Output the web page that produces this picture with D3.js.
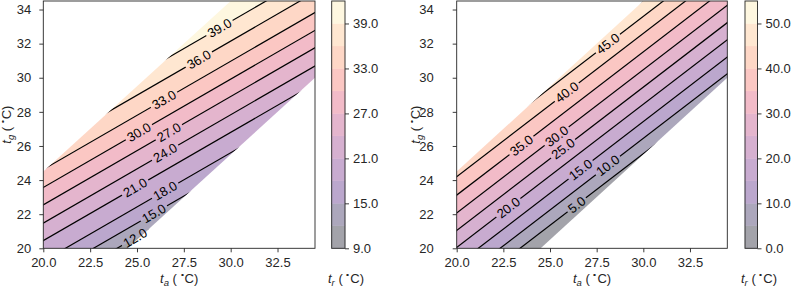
<!DOCTYPE html>
<html>
<head>
<meta charset="utf-8">
<script src="https://cdn.jsdelivr.net/npm/d3@7"></script>
<style>
  body { margin: 0; background: #fff; }
  text { font-family: "Liberation Sans", Arial, sans-serif; fill: #262626; }
</style>
</head>
<body>
<svg id="chart" width="793" height="287"></svg>
<script>
/* DATA (all temperatures in deg C) */
const taDomain = [20, 34.5];
const tgDomain = [20, 34.5];
const taTicks = [20, 22.5, 25, 27.5, 30, 32.5];
const tgTicks = [20, 22, 24, 26, 28, 30, 32, 34];

// region where t_r was computed (ta, tg); the rest of the axes is empty
const validRegion = [[20, 20], [20, 24.5], [30, 34.5], [34.5, 34.5], [34.5, 30], [24.5, 20]];

// left panel
const leftBands = [9, 12, 15, 18, 21, 24, 27, 30, 33, 36, 39, 42];
const leftLevels = [12, 15, 18, 21, 24, 27, 30, 33, 36, 39];
const leftTgAtTa20 = [17.5, 18.3, 19.25, 20.45, 21.48, 22.55, 23.57, 24.62, 25.8, 26.95];
const leftSlope = 0.635; // d tg / d ta along an isoline
const leftLabelTa = [24.9, 25.9, 26.5, 24.9, 26.5, 26.7, 25.1, 26.44, 28.3, 29.4];
const leftBarTicks = [9, 15, 21, 27, 33, 39];

// right panel
const rightBands = [0, 5, 10, 15, 20, 25, 30, 35, 40, 45, 50, 55];
const rightLevels = [5, 10, 15, 20, 25, 30, 35, 40, 45, 50];
const rightTgAtTa20 = [17.15, 18.05, 19.03, 20.05, 21.05, 22.07, 23.12, 24.2, 25.2, 26.15];
const rightSlope = 0.84;
const rightLabelTa = [26.43, 28.1, 26.64, 22.77, 25.7, 25.36, 23.47, 25.9, 28.1, null];
const rightBarTicks = [0, 10, 20, 30, 40, 50];

/* LAYOUT */
const yTop = 1, yBottom = 248.3;
const panels = [
  { bands: leftBands, levels: leftLevels, tg0: leftTgAtTa20, slope: leftSlope, labelTa: leftLabelTa,
    barTicks: leftBarTicks, x0: 43.3, x1: 315, bar0: 331.7, bar1: 345, barLabelX: 346,
    yPad: 8, yLabelX: 10.5 },
  { bands: rightBands, levels: rightLevels, tg0: rightTgAtTa20, slope: rightSlope, labelTa: rightLabelTa,
    barTicks: rightBarTicks, x0: 456.7, x1: 727.3, bar0: 745, bar1: 757.5, barLabelX: 759,
    yPad: 19, yLabelX: 419.5 }
];
const alpha = 0.37;
const ink = "#262626";
const font = '"Liberation Sans", Arial, sans-serif';

const svg = d3.select("#chart");
const defs = svg.append("defs");

// axis label like  t_a ( °C)
function unitLabel(sel, sub) {
  sel.append("tspan").attr("font-style", "italic").text("t");
  sel.append("tspan").attr("font-style", "italic").attr("font-size", "9.5px").attr("dy", 3).text(sub);
  sel.append("tspan").attr("dy", -3).text(" (\u2009");
  sel.append("tspan").attr("font-size", "8px").attr("dy", -5).text("\u2218");
  sel.append("tspan").attr("dy", 5).text("C)");
}

panels.forEach((p, k) => {
  const x = d3.scaleLinear().domain(taDomain).range([p.x0, p.x1]);
  const y = d3.scaleLinear().domain(tgDomain).range([yBottom, yTop]);
  const nb = p.bands.length - 1;
  const color = i => d3.interpolateRgb("#ffffff", d3.interpolateMagma((i + 0.5) / nb))(alpha);
  const lineTg = (i, ta) => p.tg0[i] + p.slope * (ta - 20);

  // clip to the valid region
  defs.append("clipPath").attr("id", "valid" + k)
    .append("polygon")
    .attr("points", validRegion.map(d => [x(d[0]), y(d[1])].join(",")).join(" "));

  const fillG = svg.append("g").attr("clip-path", `url(#valid${k})`);
  const lineG = svg.append("g").attr("clip-path", `url(#valid${k})`).append("g").attr("mask", `url(#gap${k})`);
  const labelG = svg.append("g");

  // filled bands: band i lies between isoline i-1 and isoline i
  const far = [10, 45];
  const bandData = d3.range(nb).map(i => {
    const lo = far.map(ta => [ta, i === 0 ? 0 : lineTg(i - 1, ta)]);
    const hi = far.map(ta => [ta, i === nb - 1 ? 60 : lineTg(i, ta)]).reverse();
    return { i, pts: lo.concat(hi) };
  });
  fillG.selectAll("path")
    .data(bandData)
    .join("path")
    .attr("d", d => d3.line().x(q => x(q[0])).y(q => y(q[1]))(d.pts) + "Z")
    .attr("fill", d => color(d.i))
    .attr("stroke", d => color(d.i))
    .attr("stroke-width", 0.6);

  // contour lines
  lineG.selectAll("path")
    .data(p.levels.map((lv, i) => i))
    .join("path")
    .attr("d", i => d3.line()(far.map(ta => [x(ta), y(lineTg(i, ta))])))
    .attr("fill", "none")
    .attr("stroke", "#000")
    .attr("stroke-width", 1.2);

  // contour labels, with gaps cut out of the lines
  const kx = (p.x1 - p.x0) / (taDomain[1] - taDomain[0]);
  const ky = (yBottom - yTop) / (tgDomain[1] - tgDomain[0]);
  const angle = -Math.atan2(p.slope * ky, kx) * 180 / Math.PI;
  const labels = p.levels.map((lv, i) => ({ lv, i, ta: p.labelTa[i] })).filter(d => d.ta != null);
  const at = d => `translate(${x(d.ta)},${y(lineTg(d.i, d.ta))}) rotate(${angle})`;

  const mask = defs.append("mask").attr("id", "gap" + k).attr("maskUnits", "userSpaceOnUse")
    .attr("x", 0).attr("y", 0).attr("width", 793).attr("height", 287);
  mask.append("rect").attr("width", 793).attr("height", 287).attr("fill", "#fff");

  labelG.selectAll("text")
    .data(labels)
    .join("text")
    .attr("transform", at)
    .attr("text-anchor", "middle")
    .attr("dy", "0.35em")
    .attr("font-size", "13px")
    .style("fill", "#000")
    .text(d => d.lv.toFixed(1))
    .each(function (d) {
      const w = this.getComputedTextLength() + 5;
      mask.append("rect")
        .attr("x", -w / 2).attr("y", -6).attr("width", w).attr("height", 12)
        .attr("fill", "#000")
        .attr("transform", at(d));
    });

  // axes
  const xAxis = d3.axisBottom(x).tickValues(taTicks).tickFormat(d3.format(".1f")).tickSize(4).tickPadding(5);
  const yAxis = d3.axisLeft(y).tickValues(tgTicks).tickFormat(d3.format("d")).tickSize(4).tickPadding(p.yPad);
  const gx = svg.append("g").attr("transform", `translate(0,${yBottom})`).call(xAxis);
  const gy = svg.append("g").attr("transform", `translate(${p.x0},0)`).call(yAxis);
  [gx, gy].forEach(a => {
    a.select(".domain").remove();
    a.selectAll("line").attr("stroke", ink).attr("stroke-width", 0.9);
    a.selectAll("text").attr("font-size", "13px").style("font-family", font).attr("fill", ink);
  });
  svg.append("rect")
    .attr("x", p.x0).attr("y", yTop).attr("width", p.x1 - p.x0).attr("height", yBottom - yTop)
    .attr("fill", "none").attr("stroke", ink).attr("stroke-width", 0.9);

  svg.append("text").attr("x", (p.x0 + p.x1) / 2).attr("y", 282.5)
    .attr("text-anchor", "middle").attr("font-size", "13px").call(unitLabel, "a");
  svg.append("text")
    .attr("transform", `translate(${p.yLabelX},${(yTop + yBottom) / 2}) rotate(-90)`)
    .attr("text-anchor", "middle").attr("font-size", "13px").call(unitLabel, "g");

  // colour bar
  const cb = d3.scaleLinear().domain([p.bands[0], p.bands[nb]]).range([yBottom, yTop]);
  svg.append("g").selectAll("rect")
    .data(d3.range(nb))
    .join("rect")
    .attr("x", p.bar0).attr("width", p.bar1 - p.bar0)
    .attr("y", i => cb(p.bands[i + 1]))
    .attr("height", i => cb(p.bands[i]) - cb(p.bands[i + 1]))
    .attr("fill", i => color(i))
    .attr("stroke", i => color(i)).attr("stroke-width", 0.4);
  svg.append("rect")
    .attr("x", p.bar0).attr("y", yTop).attr("width", p.bar1 - p.bar0).attr("height", yBottom - yTop)
    .attr("fill", "none").attr("stroke", ink).attr("stroke-width", 0.9);
  const gc = svg.append("g").attr("transform", `translate(${p.bar1},0)`)
    .call(d3.axisRight(cb).tickValues(p.barTicks).tickFormat(d3.format(".1f")).tickSize(4).tickPadding(4));
  gc.select(".domain").remove();
  gc.selectAll("line").attr("stroke", ink).attr("stroke-width", 0.9);
  gc.selectAll("text").attr("font-size", "13px").style("font-family", font).attr("fill", ink);

  svg.append("text").attr("x", p.barLabelX).attr("y", 282.5)
    .attr("text-anchor", "middle").attr("font-size", "13px").call(unitLabel, "r");
});
</script>
</body>
</html>
